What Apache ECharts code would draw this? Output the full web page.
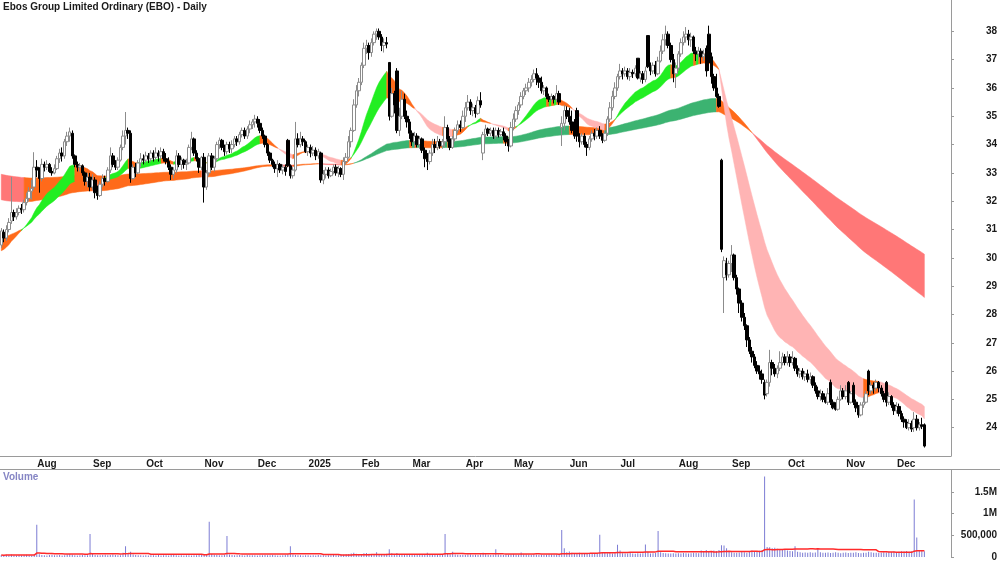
<!DOCTYPE html>
<html>
<head>
<meta charset="utf-8">
<title>Ebos Group Limited Ordinary (EBO) - Daily</title>
<script src="https://cdn.jsdelivr.net/npm/echarts@6/dist/echarts.min.js"></script>
<style>
  html, body { margin: 0; padding: 0; background: #fff; }
  #chart { width: 1000px; height: 562px; }
</style>
</head>
<body>
<div id="chart"></div>
<script>
// ASX trading calendar from 15 Jul 2024, with a few empty days of padding on the right
const startDate = '2024-07-15';
const holidays = ['2024-12-25', '2024-12-26', '2025-01-01', '2025-01-27', '2025-04-18',
  '2025-04-21', '2025-04-25', '2025-06-09', '2025-12-25', '2025-12-26', '2026-01-01'];
const monthNames = ['Jan', 'Feb', 'Mar', 'Apr', 'May', 'Jun', 'Jul', 'Aug', 'Sep', 'Oct', 'Nov', 'Dec'];
const padDays = 10;

// daily bars [open, close, low, high]
const ohlc = [
  [30.45,30.95,30.35,31.05],[30.9,30.7,30.55,31.0],[30.7,31.0,30.6,31.15],[31.0,31.25,30.9,31.4],[31.3,31.6,31.2,32.85],
  [31.6,31.45,31.3,31.7],[31.45,31.6,31.35,31.75],[31.6,31.75,31.5,31.85],[31.75,31.7,31.55,31.9],[31.7,31.95,31.6,32.05],
  [31.95,32.1,31.85,32.3],[32.1,32.35,32.0,32.5],[32.35,32.45,32.05,32.75],[32.5,33.2,32.4,33.73],[33.2,33.1,32.85,33.45],
  [33.1,32.8,32.3,33.2],[32.8,33.3,32.7,33.5],[33.3,33.2,33.05,33.4],[33.2,33.3,33.1,33.45],[33.3,33.05,33.0,33.35],
  [33.05,33.0,32.9,33.2],[33.0,33.15,32.95,33.3],[33.15,33.5,33.1,33.6],[33.5,33.7,33.35,33.85],[33.7,33.6,33.4,33.9],
  [33.6,34.1,33.5,34.2],[34.1,34.3,33.95,34.45],[34.3,34.45,34.1,34.6],[34.4,33.6,33.5,34.5],[33.6,33.3,33.2,33.65],
  [33.3,33.2,33.05,33.4],[33.2,33.25,33.05,33.35],[33.25,33.0,32.9,33.3],[33.0,32.7,32.55,33.05],[32.7,32.85,32.5,33.0],
  [32.85,32.5,32.35,33.0],[32.5,32.75,32.4,32.95],[32.75,32.3,32.1,32.85],[32.3,32.2,32.05,32.55],[32.2,32.6,32.15,32.7],
  [32.6,32.8,32.5,32.95],[32.8,32.7,32.55,32.9],[32.7,33.1,32.65,33.2],[33.1,33.6,33.0,33.9],[33.6,33.3,33.2,33.7],
  [33.3,33.2,33.1,33.45],[33.2,33.45,33.1,33.55],[33.45,33.9,33.4,34.0],[33.9,34.3,33.8,34.5],[34.3,34.5,34.0,35.15],
  [34.5,34.4,34.2,34.6],[34.4,32.8,32.65,34.5],[32.8,33.2,32.75,33.3],[33.2,33.0,32.85,33.35],[33.0,33.35,32.95,33.45],
  [33.35,33.5,33.2,33.7],[33.5,33.45,33.3,33.65],[33.45,33.6,33.35,33.75],[33.6,33.5,33.35,33.7],[33.5,33.7,33.4,33.8],
  [33.7,33.55,33.4,33.8],[33.55,33.7,33.45,33.9],[33.7,33.6,33.4,33.8],[33.6,33.75,33.5,33.9],[33.75,33.5,33.4,33.85],
  [33.5,33.4,33.3,33.7],[33.4,33.2,33.1,33.55],[33.2,32.95,32.75,33.3],[32.95,33.1,32.8,33.2],[33.1,33.6,33.0,33.8],
  [33.6,33.3,33.2,33.7],[33.3,33.45,33.1,33.55],[33.45,33.3,33.15,33.5],[33.3,33.35,33.1,33.5],[33.35,33.9,33.3,34.0],
  [33.9,34.2,33.8,34.45],[34.2,33.7,33.6,34.25],[33.7,33.5,33.4,33.8],[33.5,33.2,33.0,33.55],[33.2,33.55,33.1,33.6],
  [33.55,32.5,31.95,33.7],[32.5,33.0,32.4,33.1],[33.0,33.6,32.9,33.7],[33.6,33.2,33.1,33.7],[33.2,33.5,33.05,33.6],
  [33.5,34.0,33.4,34.1],[34.0,34.15,33.85,34.25],[34.15,33.9,33.8,34.2],[33.9,33.75,33.6,34.0],[33.75,34.0,33.65,34.1],
  [34.0,33.85,33.7,34.1],[33.85,34.0,33.7,34.15],[34.0,34.2,33.9,34.3],[34.2,34.1,33.95,34.3],[34.1,34.35,34.0,34.45],
  [34.35,34.5,34.25,34.6],[34.5,34.3,34.2,34.6],[34.3,34.55,34.2,34.65],[34.55,34.7,34.4,34.85],[34.7,34.8,34.55,34.9],
  [34.8,34.9,34.6,35.05],[34.9,34.75,34.6,35.0],[34.75,34.5,34.4,34.9],[34.5,34.3,34.2,34.6],[34.3,34.0,33.9,34.35],
  [34.0,33.7,33.6,34.05],[33.7,33.45,33.35,33.75],[33.45,33.3,33.2,33.5],[33.3,33.15,33.0,33.4],[33.15,33.3,32.85,33.45],
  [33.3,33.1,33.0,33.35],[33.1,33.2,32.95,33.3],[33.2,33.05,32.9,33.3],[34.15,33.25,33.2,34.2],[33.25,32.9,32.8,33.3],
  [32.9,33.1,32.8,33.2],[33.1,34.2,33.05,34.8],[34.2,34.0,33.9,34.4],[34.0,34.2,33.9,34.45],[34.2,34.1,33.95,34.3],
  [34.1,33.75,33.7,34.15],[33.75,33.9,33.6,34.0],[33.9,33.7,33.55,34.0],[33.7,33.8,33.6,33.95],[33.8,33.6,33.45,33.9],
  [33.6,33.75,33.5,33.85],[33.7,32.75,32.65,33.75],[32.75,32.95,32.6,33.1],[32.95,33.1,32.8,33.2],[33.1,32.9,32.8,33.2],
  [32.9,33.05,32.85,33.15],[33.05,33.2,32.95,33.3],[33.2,33.0,32.9,33.3],[33.0,33.15,32.85,33.25],[33.15,32.95,32.85,33.2],
  [32.95,33.4,32.75,33.55],[33.4,33.55,33.3,33.7],[33.55,34.1,33.5,34.3],[34.1,34.5,33.9,34.6],[34.5,35.4,34.45,35.6],
  [35.4,35.9,35.3,36.1],[35.9,36.2,35.7,36.35],[36.2,36.8,36.1,36.9],[36.8,37.4,36.7,37.6],[37.4,37.5,37.2,37.7],
  [37.5,37.25,37.0,37.6],[37.25,37.6,37.1,37.75],[37.6,37.9,37.5,38.0],[37.9,38.0,37.7,38.1],[38.0,37.8,37.7,38.1],
  [37.8,37.5,37.3,37.9],[37.5,37.6,37.25,37.75],[37.6,37.55,37.4,37.8],[36.9,35.0,34.85,36.9],[35.0,35.8,34.95,36.0],
  [35.8,35.4,35.1,35.9],[36.6,34.5,34.4,36.7],[34.5,35.0,34.3,35.3],[35.0,35.6,34.9,35.9],[35.6,35.0,34.9,35.8],
  [35.0,34.8,34.6,35.2],[34.8,34.4,34.2,34.9],[34.4,34.1,33.95,34.5],[34.1,34.3,33.9,34.45],[34.3,34.0,33.9,34.4],
  [34.0,34.2,33.85,34.3],[34.2,33.8,33.7,34.25],[33.8,33.5,33.2,33.9],[33.5,33.4,33.1,33.7],[33.4,33.7,33.3,33.8],
  [33.7,34.0,33.6,34.2],[34.0,33.9,33.7,34.2],[33.9,34.1,33.8,34.3],[34.1,33.95,33.85,34.2],[33.95,34.1,33.85,34.2],
  [34.1,34.6,33.9,35.0],[34.6,34.2,34.1,34.7],[34.2,33.9,33.8,34.3],[33.9,34.2,33.85,34.3],[34.2,34.5,34.1,34.6],
  [34.5,34.7,34.4,34.85],[34.7,34.6,34.45,34.85],[34.6,35.0,34.55,35.2],[35.0,35.3,34.8,35.5],[35.3,35.5,35.2,35.75],
  [35.5,35.2,35.05,35.6],[35.2,35.3,35.0,35.45],[35.3,35.1,34.95,35.4],[35.1,35.55,35.05,35.7],[35.55,35.4,35.3,35.85],
  [33.7,34.35,33.45,34.45],[34.35,34.55,34.25,34.7],[34.55,34.4,34.3,34.6],[34.4,34.5,34.3,34.6],[34.5,34.3,34.2,34.6],
  [34.3,34.5,34.2,34.6],[34.5,34.35,34.25,34.6],[34.35,34.45,34.3,34.55],[34.45,34.3,34.15,34.6],[34.3,34.1,33.95,34.4],
  [34.1,33.95,33.75,34.2],[33.95,34.6,33.9,34.8],[34.6,34.9,34.5,35.1],[34.9,35.2,34.8,35.35],[35.2,35.4,35.05,35.5],
  [35.4,35.7,35.3,35.85],[35.7,35.9,35.6,36.0],[35.9,36.0,35.75,36.15],[36.0,36.2,35.85,36.35],[36.2,36.3,36.05,36.45],
  [36.3,36.5,36.2,36.65],[36.5,36.35,36.1,36.7],[36.35,36.2,36.0,36.45],[36.2,35.9,35.8,36.4],[35.9,36.0,35.75,36.1],
  [36.0,35.7,35.6,36.05],[35.7,35.6,35.5,35.8],[35.6,35.7,35.5,35.8],[35.7,35.6,35.45,35.75],[35.6,35.8,35.5,36.1],
  [35.8,35.5,35.4,35.9],[34.6,34.75,33.95,35.0],[34.75,35.2,34.5,35.4],[35.2,35.0,34.9,35.35],[35.0,34.8,34.7,35.3],
  [34.8,34.5,34.4,35.2],[34.5,34.3,34.2,34.9],[35.2,34.3,34.1,35.3],[34.3,34.1,33.9,34.4],[34.1,34.3,34.0,34.4],
  [34.3,34.0,33.9,34.4],[34.0,33.9,33.6,34.1],[33.9,34.2,33.8,34.3],[34.2,34.4,34.1,34.5],[34.4,34.3,34.15,34.55],
  [34.3,34.5,34.2,34.6],[34.5,34.3,34.2,34.65],[34.3,34.15,34.05,34.4],[34.15,34.4,34.1,34.5],[34.4,34.9,34.3,35.0],
  [34.9,35.3,34.8,35.5],[35.3,35.7,35.2,35.9],[35.7,36.0,35.6,36.2],[36.0,36.4,35.9,36.5],[36.4,36.6,36.3,36.85],
  [36.6,36.5,36.3,36.7],[36.5,36.6,36.4,36.75],[36.6,36.4,36.3,36.7],[36.4,36.55,36.25,36.7],[36.55,36.5,36.35,36.65],
  [36.5,36.7,36.4,36.8],[37.05,36.35,36.3,37.05],[36.35,36.5,36.2,36.6],[36.5,36.3,36.15,36.6],[36.3,36.6,36.2,36.75],
  [37.85,36.75,36.7,37.85],[36.75,36.6,36.45,36.9],[36.6,36.8,36.5,36.9],[36.8,36.5,36.4,36.95],[36.5,36.95,36.45,37.1],
  [36.95,37.3,36.9,37.5],[37.3,37.7,37.2,37.9],[37.7,37.9,37.5,38.2],[37.9,37.5,37.4,38.0],[37.5,37.0,36.9,37.6],
  [37.0,36.5,36.2,37.2],[36.5,36.7,36.0,36.9],[36.7,37.2,36.6,37.3],[37.2,37.6,37.1,37.75],[37.6,37.8,37.5,38.0],
  [37.8,37.9,37.6,38.15],[37.9,37.7,37.5,38.05],[37.7,37.8,37.45,37.95],[37.8,37.3,37.2,37.85],[37.3,37.2,36.95,37.45],
  [37.2,37.3,37.0,37.45],[37.3,37.1,36.85,37.4],[37.1,37.2,36.95,37.35],[37.4,36.6,36.4,37.5],[37.9,36.9,36.6,38.2],
  [37.1,36.4,36.15,37.25],[36.4,36.0,35.9,36.5],[36.0,35.7,35.65,36.5],[35.7,35.35,35.3,35.8],[33.45,30.3,30.2,33.5],
  [29.3,29.9,28.05,30.05],[29.8,29.4,29.2,30.0],[29.4,29.8,29.3,29.9],[29.8,30.1,29.5,30.45],[30.1,29.3,29.2,30.15],
  [29.3,28.9,28.7,29.4],[28.9,28.4,28.05,28.95],[28.4,27.9,27.75,28.5],[27.9,27.6,27.45,28.05],[27.6,27.1,26.85,27.65],
  [27.1,26.7,26.6,27.2],[26.7,26.5,26.3,26.85],[26.5,26.2,26.1,26.6],[26.2,26.0,25.9,26.35],[26.0,25.9,25.7,26.2],
  [25.9,25.7,25.55,26.05],[25.6,25.15,25.0,25.7],[25.2,25.6,25.1,25.7],[25.6,26.3,25.45,26.75],[26.3,26.1,25.85,26.4],
  [26.1,25.9,25.8,26.25],[25.9,26.1,25.75,26.2],[26.1,26.3,26.0,26.7],[26.3,26.5,26.2,26.65],[26.5,26.3,26.2,26.6],
  [26.3,26.5,26.2,26.7],[26.5,26.3,26.15,26.6],[26.3,26.45,26.2,26.7],[26.45,26.1,26.0,26.5],[26.1,25.9,25.8,26.2],
  [25.9,26.0,25.75,26.1],[26.0,25.8,25.7,26.1],[25.8,25.9,25.65,26.0],[25.9,25.7,25.6,26.05],[25.7,25.8,25.55,25.95],
  [25.8,25.5,25.4,25.85],[25.5,25.3,25.2,25.6],[25.3,25.1,25.0,25.45],[25.1,25.2,24.95,25.35],[25.2,25.0,24.9,25.3],
  [25.0,24.9,24.85,25.1],[24.9,25.2,24.8,25.4],[25.6,24.9,24.8,25.7],[24.9,24.7,24.65,25.0],[24.7,24.65,24.6,24.9],
  [24.65,25.0,24.6,25.1],[25.0,25.3,24.95,25.5],[25.3,25.1,25.0,25.4],[25.1,25.3,25.0,25.5],[25.6,24.9,24.8,25.65],
  [24.9,25.2,24.85,25.3],[25.5,24.9,24.8,25.6],[24.9,24.7,24.55,25.0],[24.7,24.45,24.35,24.8],[24.45,24.8,24.4,24.9],
  [24.8,24.9,24.7,25.1],[24.9,25.2,24.85,25.3],[26.0,25.3,25.15,26.05],[25.3,25.5,25.2,25.6],[25.5,25.4,25.2,25.6],
  [25.4,25.6,25.3,25.7],[25.6,25.4,25.25,25.65],[25.4,25.2,25.1,25.5],[25.2,25.0,24.9,25.3],[25.6,24.9,24.75,25.65],
  [24.9,25.1,24.8,25.25],[25.1,24.8,24.7,25.15],[24.8,24.6,24.45,24.9],[24.6,24.75,24.5,24.9],[24.75,24.5,24.4,24.85],
  [24.5,24.3,24.2,24.6],[24.3,24.2,24.0,24.4],[24.2,24.0,23.95,24.3],[24.0,24.15,23.9,24.3],[24.15,23.95,23.85,24.25],
  [24.0,24.3,23.85,24.55],[24.3,24.0,23.9,24.45],[24.0,24.1,23.9,24.2],[24.1,24.05,23.95,24.35],[24.1,23.35,23.3,24.15]
];

// daily volume, thousands of shares
const volumesK = [
  45,38,52,40,60,42,35,48,39,44, 50,41,37,55,740,62,48,40,36,44,
  52,38,41,47,35,39,58,66,49,43, 37,40,45,38,42,530,70,48,41,39,
  45,52,38,44,60,47,42,40,95,250, 72,120,58,44,40,38,36,40,35,42,
  38,33,45,37,41,39,36,44,50,38, 35,40,37,43,39,36,41,38,45,48,
  60,55,810,70,52,45,41,39,44,485, 60,48,42,39,45,41,37,44,40,38,
  43,36,42,39,45,41,38,44,40,37, 36,42,48,55,250,58,45,40,38,36,
  42,39,35,41,37,44,40,38,36,42, 39,45,41,43,58,50,62,70,80,100,
  74,66,60,85,90,72,64,58,110,70, 62,58,75,180,85,60,90,55,62,70,
  50,48,52,45,58,50,44,48,100,55, 50,47,52,45,49,530,90,60,120,55,
  52,48,50,45,60,55,48,52,47,58, 100,62,50,48,52,180,60,52,48,55,
  50,58,62,54,50,105,60,55,52,48, 56,60,50,54,48,52,58,55,50,60,
  56,620,200,110,125,100,90,85,95,80, 90,85,78,88,92,80,510,110,95,85,
  90,80,88,280,150,85,80,78,90,82, 75,88,80,85,290,120,80,85,90,600,
  110,90,85,80,78,88,82,85,80,90, 88,82,86,95,90,85,150,130,160,140,
  120,150,140,160,270,265,200,120,110,100, 95,105,120,110,100,140,150,130,120,145,
  160,1850,230,225,200,215,190,180,175,160, 150,140,130,250,120,110,100,105,95,110,
  100,105,200,110,100,95,105,90,100,110, 95,85,100,105,90,100,95,110,90,85,
  95,100,120,110,100,95,90,100,110,105, 120,115,125,110,120,130,125,140,120,130,
  1320,450,160,150,130
];

// moving average ribbons: [fast period, slow period] and their values on the first day
const shortPeriods = [18, 34];
const longPeriods = [140, 220];
const shortSeeds = [30.25, 30.75];
const longSeeds = [32.05, 32.95];
const volumeMaPeriod = 45;

const priceTicks = { min: 23, max: 39, step: 1 };
const volumeTickLabels = { 0: '0', 500000: '500,000', 1000000: '1M', 1500000: '1.5M' };

const font = "'Liberation Sans', Arial, sans-serif";

// build category dates
const dates = [];
for (let d = new Date(startDate + 'T00:00:00Z'); dates.length < ohlc.length + padDays; d.setUTCDate(d.getUTCDate() + 1)) {
  const dow = d.getUTCDay();
  const s = d.toISOString().slice(0, 10);
  if (dow === 0 || dow === 6 || holidays.includes(s)) continue;
  dates.push(s);
}
const monthLabel = dates.map((s, i) => {
  if (i === 0 || i >= ohlc.length || s.slice(5, 7) === dates[i - 1].slice(5, 7)) return '';
  const m = +s.slice(5, 7) - 1;
  return m === 0 ? s.slice(0, 4) : monthNames[m];
});

function ema(values, period, seed) {
  const k = 2 / (period + 1);
  const out = [seed];
  for (let i = 1; i < values.length; i++) out.push(out[i - 1] + k * (values[i] - out[i - 1]));
  return out;
}

const closes = ohlc.map(d => d[1]);
const shortFast = ema(closes, shortPeriods[0], shortSeeds[0]);
const shortSlow = ema(closes, shortPeriods[1], shortSeeds[1]);
const longFast = ema(closes, longPeriods[0], longSeeds[0]);
const longSlow = ema(closes, longPeriods[1], longSeeds[1]);

const volumes = volumesK.map(v => v * 1000);
const volMA = volumes.map((v, i) => {
  const from = Math.max(0, i - volumeMaPeriod + 1);
  let sum = 0;
  for (let j = from; j <= i; j++) sum += volumes[j];
  return Math.round(sum / (i - from + 1));
});

// runs of days with the same ribbon state; 0 = up, 1 = mixed, 2 = down
function bandRuns(fast, slow) {
  const runs = [];
  for (let i = 0; i < fast.length - 1; i++) {
    const above = fast[i + 1] > slow[i + 1];
    const rising = fast[i + 1] >= fast[i];
    const state = above && rising ? 0 : (!above && !rising ? 2 : 1);
    const last = runs[runs.length - 1];
    if (last && last[2] === state) last[1] = i + 1;
    else runs.push([i, i + 1, state]);
  }
  return runs.map(r => {
    const vals = fast.slice(r[0], r[1] + 1).concat(slow.slice(r[0], r[1] + 1));
    return [r[0], r[1], r[2], Math.min.apply(null, vals), Math.max.apply(null, vals)];
  });
}

function bandSeries(fast, slow, colors) {
  return {
    type: 'custom',
    xAxisIndex: 0,
    yAxisIndex: 0,
    silent: true,
    clip: true,
    z: 1,
    encode: { x: 0, y: [3, 4] },
    renderItem: (params, api) => {
      const a = api.value(0);
      const b = api.value(1);
      const c = colors[api.value(2)];
      const pts = [];
      for (let k = a; k <= b; k++) pts.push(api.coord([k, fast[k]]));
      for (let k = b; k >= a; k--) pts.push(api.coord([k, slow[k]]));
      return {
        type: 'polygon',
        shape: { points: pts },
        style: { fill: c, stroke: c, lineWidth: 0.5 }
      };
    },
    data: bandRuns(fast, slow)
  };
}

const axisGrey = '#9a9a9a';
const labelStyle = { fontSize: 10, fontWeight: 'bold', color: '#1a1a1a', fontFamily: font };
const isMonthStart = i => !!monthLabel[i];

const chart = echarts.init(document.getElementById('chart'));
chart.setOption({
  animation: false,
  backgroundColor: '#ffffff',
  textStyle: { fontFamily: font },
  title: [
    { text: 'Ebos Group Limited Ordinary (EBO) - Daily', left: 3, top: 2, padding: 0,
      textStyle: { fontSize: 10, fontWeight: 'bold', color: '#1a1a1a', fontFamily: font } },
    { text: 'Volume', left: 3, top: 472, padding: 0,
      textStyle: { fontSize: 10, fontWeight: 'bold', color: '#8585c4', fontFamily: font } }
  ],
  grid: [
    { left: 0, right: 49, top: 3, bottom: 106, outerBoundsMode: 'none' },
    { left: 0, right: 49, top: 470, bottom: 5, outerBoundsMode: 'none' }
  ],
  graphic: [
    { type: 'line', shape: { x1: 0, y1: 469.5, x2: 1000, y2: 469.5 }, style: { stroke: axisGrey, lineWidth: 1 }, silent: true },
    { type: 'line', shape: { x1: 951.5, y1: 0, x2: 951.5, y2: 3 }, style: { stroke: axisGrey, lineWidth: 1 }, silent: true }
  ],
  xAxis: [
    {
      type: 'category', gridIndex: 0, data: dates, boundaryGap: true,
      axisLine: { lineStyle: { color: axisGrey } },
      axisTick: { interval: isMonthStart, alignWithLabel: true, length: 3, lineStyle: { color: axisGrey } },
      axisLabel: Object.assign({ interval: isMonthStart, formatter: (v, i) => monthLabel[i], align: 'left', padding: [0, 0, 0, 3], margin: 3 }, labelStyle),
      splitLine: { show: false }
    },
    {
      type: 'category', gridIndex: 1, data: dates, boundaryGap: true,
      axisLine: { show: false }, axisTick: { show: false }, axisLabel: { show: false }, splitLine: { show: false }
    }
  ],
  yAxis: [
    {
      type: 'value', gridIndex: 0, position: 'right',
      min: priceTicks.min, max: priceTicks.max, interval: priceTicks.step,
      axisLine: { show: true, lineStyle: { color: axisGrey } },
      axisTick: { show: true, length: 3, lineStyle: { color: axisGrey } },
      axisLabel: Object.assign({ showMinLabel: false, showMaxLabel: false, align: 'right', margin: 46 }, labelStyle),
      splitLine: { show: false }
    },
    {
      type: 'value', gridIndex: 1, position: 'right', min: 0, max: 2000000, interval: 500000,
      axisLine: { show: true, lineStyle: { color: axisGrey } },
      axisTick: { show: true, length: 3, lineStyle: { color: axisGrey } },
      axisLabel: Object.assign({ showMaxLabel: false, align: 'right', margin: 46,
        formatter: v => volumeTickLabels[v] !== undefined ? volumeTickLabels[v] : '' }, labelStyle),
      splitLine: { show: false }
    }
  ],
  series: [
    bandSeries(longFast, longSlow, ['#3cb371', '#ff6a1a', '#ff7777']),
    bandSeries(shortFast, shortSlow, ['#22ee22', '#ff6a1a', '#ffb4b4']),
    {
      type: 'candlestick', xAxisIndex: 0, yAxisIndex: 0, data: ohlc, barWidth: 3, z: 3, silent: true,
      itemStyle: { color: '#ffffff', color0: '#000000', borderColor: '#8c8c8c', borderColor0: '#000000', borderWidth: 1 }
    },
    {
      type: 'bar', xAxisIndex: 1, yAxisIndex: 1, data: volumes, barWidth: 1, silent: true,
      itemStyle: { color: '#7c7cd4' }
    },
    {
      type: 'line', xAxisIndex: 1, yAxisIndex: 1, data: volMA, symbol: 'none', silent: true, z: 3,
      lineStyle: { color: '#ff2a2a', width: 1.5 }
    }
  ]
});
window.onresize = () => { chart.resize(); };
</script>
</body>
</html>
